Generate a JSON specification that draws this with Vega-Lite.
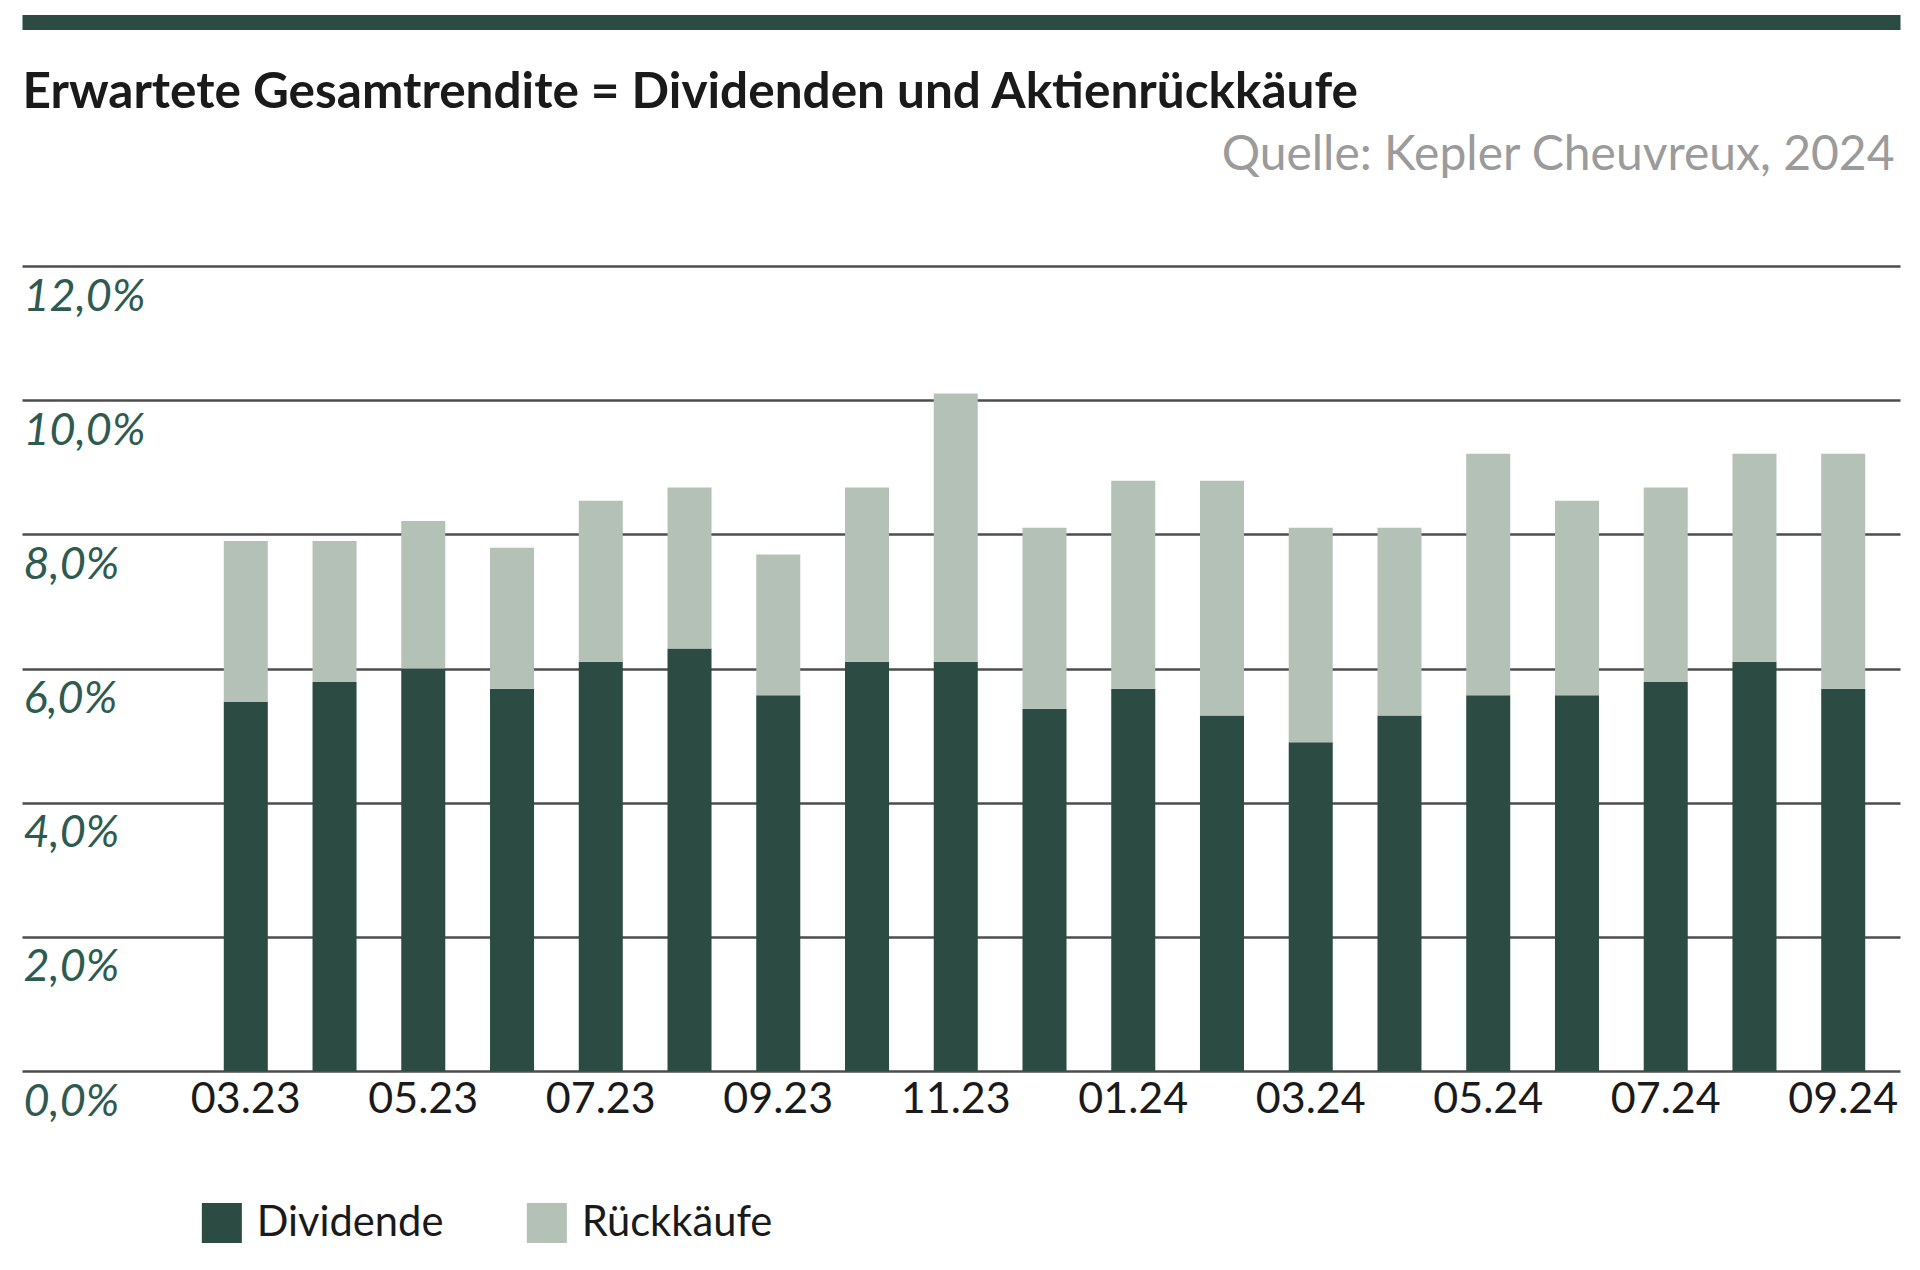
{
  "$schema": "https://vega.github.io/schema/vega-lite/v6.json",
  "width": 1878,
  "height": 805,
  "autosize": {"type": "none"},
  "padding": {"left": 22, "top": 266, "right": 20, "bottom": 199},
  "background": "white",
  "config": {
    "font": "Lato",
    "view": {"stroke": null},
    "axisY": {
      "title": null,
      "domain": false, "ticks": false, "tickSize": 0,
      "grid": true, "gridColor": "#4d4d4d", "gridWidth": 2.5, "gridOpacity": 1,
      "labelExpr": "replace(format(datum.value, '.1f'), '.', ',') + '%'",
      "labelAlign": "left", "labelBaseline": "alphabetic", "labelPadding": -1, "labelOffset": 44,
      "labelFontSize": 45, "labelFontStyle": "italic", "labelColor": "#2f5a4f"
    }
  },
  "data": {
    "values": [
      {"Monat": "03.23", "Dividende": 5.5, "Gesamt": 7.9},
      {"Monat": "04.23", "Dividende": 5.8, "Gesamt": 7.9},
      {"Monat": "05.23", "Dividende": 6.0, "Gesamt": 8.2},
      {"Monat": "06.23", "Dividende": 5.7, "Gesamt": 7.8},
      {"Monat": "07.23", "Dividende": 6.1, "Gesamt": 8.5},
      {"Monat": "08.23", "Dividende": 6.3, "Gesamt": 8.7},
      {"Monat": "09.23", "Dividende": 5.6, "Gesamt": 7.7},
      {"Monat": "10.23", "Dividende": 6.1, "Gesamt": 8.7},
      {"Monat": "11.23", "Dividende": 6.1, "Gesamt": 10.1},
      {"Monat": "12.23", "Dividende": 5.4, "Gesamt": 8.1},
      {"Monat": "01.24", "Dividende": 5.7, "Gesamt": 8.8},
      {"Monat": "02.24", "Dividende": 5.3, "Gesamt": 8.8},
      {"Monat": "03.24", "Dividende": 4.9, "Gesamt": 8.1},
      {"Monat": "04.24", "Dividende": 5.3, "Gesamt": 8.1},
      {"Monat": "05.24", "Dividende": 5.6, "Gesamt": 9.2},
      {"Monat": "06.24", "Dividende": 5.6, "Gesamt": 8.5},
      {"Monat": "07.24", "Dividende": 5.8, "Gesamt": 8.7},
      {"Monat": "08.24", "Dividende": 6.1, "Gesamt": 9.2},
      {"Monat": "09.24", "Dividende": 5.7, "Gesamt": 9.2}
    ]
  },
  "layer": [
    {
      "mark": {"type": "point", "opacity": 0},
      "encoding": {
        "x": {
          "field": "Monat", "type": "nominal", "sort": null,
          "axis": {
            "orient": "top", "offset": 244,
            "domain": true, "domainColor": "#2b4b43", "domainWidth": 15,
            "labels": false, "ticks": false, "tickSize": 0, "grid": false,
            "title": "Erwartete Gesamtrendite = Dividenden und Aktienrückkäufe",
            "titleX": 0, "titleY": 85, "titleAlign": "left", "titleAnchor": "start",
            "titleBaseline": "alphabetic", "titleFontSize": 49.5, "titleFontWeight": "bold", "titleColor": "#1a1a1a"
          }
        },
        "y": {
          "datum": 0, "type": "quantitative",
          "scale": {"domain": [0, 12], "nice": false, "zero": true},
          "axis": {"title": null, "values": [0, 2, 4, 6, 8, 10, 12]}
        }
      }
    },
    {
      "mark": {"type": "bar"},
      "encoding": {
        "x": {
          "field": "Monat", "type": "nominal", "sort": null,
          "scale": {"range": [200, 1845], "paddingInner": 0.504, "paddingOuter": 0.02},
          "axis": {
            "orient": "bottom",
            "values": ["03.23", "05.23", "07.23", "09.23", "11.23", "01.24", "03.24", "05.24", "07.24", "09.24"],
            "domain": false, "ticks": false, "tickSize": 0, "grid": false,
            "labelAngle": 0, "labelFontSize": 43, "labelColor": "#1a1a1a", "labelPadding": 7,
            "labelOverlap": false, "labelBound": false, "labelFlush": false,
            "title": "Quelle: Kepler Cheuvreux, 2024",
            "titleX": 1872, "titleY": -902, "titleAlign": "right", "titleAnchor": "end",
            "titleBaseline": "alphabetic", "titleFontSize": 48, "titleFontWeight": "normal", "titleColor": "#9b9b9b"
          }
        },
        "y": {
          "field": "Dividende", "type": "quantitative",
          "scale": {"domain": [0, 12], "nice": false, "zero": true},
          "axis": {"title": null, "values": [0, 2, 4, 6, 8, 10, 12]}
        },
        "color": {
          "datum": "Dividende", "type": "nominal",
          "scale": {"domain": ["Dividende", "Rückkäufe"], "range": ["#2b4b43", "#b4c1b7"]},
          "legend": {
            "title": null, "orient": "none", "direction": "horizontal",
            "legendX": 179, "legendY": 936,
            "symbolType": "square", "symbolSize": 1600, "symbolStrokeWidth": 0, "symbolOpacity": 1,
            "labelFontSize": 41.7, "labelColor": "#1a1a1a", "labelOffset": 14, "labelLimit": 500, "columnPadding": 82
          }
        }
      }
    },
    {
      "mark": {"type": "bar"},
      "encoding": {
        "x": {
          "field": "Monat", "type": "nominal", "sort": null,
          "scale": {"range": [200, 1845], "paddingInner": 0.504, "paddingOuter": 0.02},
          "axis": null
        },
        "y": {
          "field": "Gesamt", "type": "quantitative",
          "scale": {"domain": [0, 12], "nice": false, "zero": true},
          "axis": {"title": null, "values": [0, 2, 4, 6, 8, 10, 12]}
        },
        "y2": {"field": "Dividende"},
        "color": {"datum": "Rückkäufe", "type": "nominal"}
      }
    }
  ],
  "resolve": {"scale": {"x": "independent"}, "axis": {"x": "independent"}}
}
